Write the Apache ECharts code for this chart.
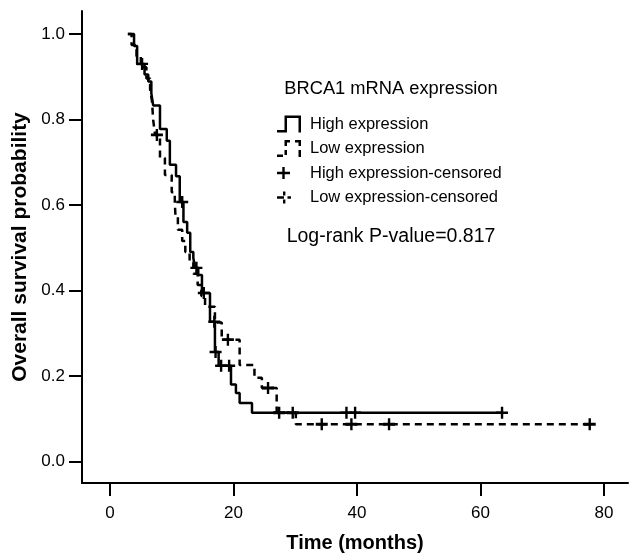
<!DOCTYPE html>
<html><head><meta charset="utf-8">
<script src="https://cdn.jsdelivr.net/npm/echarts@6/dist/echarts.min.js"></script>
<style>html,body{margin:0;padding:0;background:#fff}#c{width:630px;height:553px}</style>
</head><body><div id="c"></div>
<script>
// ---- data ----
const xTicks = [0, 20, 40, 60, 80];
const yTicks = [0, 0.2, 0.4, 0.6, 0.8, 1.0];

const highTime = [2.9, 3.9, 4.4, 5.6, 6.2, 6.7, 7.0, 8.1, 9.2, 9.7, 10.7, 11.3, 11.9, 12.5, 13.0, 13.5, 13.8, 14.3, 14.9, 16.2, 17.0, 17.6, 19.6, 20.4, 21.0, 23.0, 63.5];
const highSurv = [1.000, 0.972, 0.930, 0.905, 0.889, 0.861, 0.833, 0.778, 0.750, 0.694, 0.667, 0.607, 0.560, 0.535, 0.490, 0.476, 0.453, 0.436, 0.394, 0.327, 0.256, 0.224, 0.180, 0.160, 0.137, 0.114, 0.114];

const lowTime = [2.9, 3.5, 4.3, 5.0, 5.9, 6.5, 6.8, 7.0, 7.3, 8.1, 8.9, 10.0, 10.5, 10.6, 11.0, 11.7, 12.2, 12.9, 13.5, 14.2, 14.8, 15.4, 17.0, 18.1, 21.0, 23.4, 24.6, 27.0, 30.1, 77.7];
const lowSurv = [1.000, 0.974, 0.948, 0.922, 0.896, 0.870, 0.844, 0.799, 0.764, 0.710, 0.670, 0.630, 0.607, 0.577, 0.542, 0.516, 0.490, 0.465, 0.439, 0.413, 0.387, 0.362, 0.325, 0.285, 0.226, 0.196, 0.172, 0.114, 0.087, 0.087];

const highCensTime = [5.2, 11.7, 14.0, 15.2, 16.9, 17.1, 18.0, 19.3, 38.3, 39.7, 63.5];
const highCensSurv = [0.930, 0.607, 0.453, 0.394, 0.327, 0.256, 0.224, 0.224, 0.114, 0.114, 0.114];

const lowCensTime = [7.6, 19.1, 25.6, 27.4, 29.6, 34.3, 39.1, 45.2, 77.7];
const lowCensSurv = [0.764, 0.285, 0.172, 0.114, 0.114, 0.087, 0.087, 0.087, 0.087];

const seriesNames = ['High expression', 'Low expression', 'High expression-censored', 'Low expression-censored'];
const legendTitle = 'BRCA1 mRNA expression';
const pValueText = 'Log-rank P-value=0.817';

// ---- chart ----
const FONT = '"Liberation Sans", Arial, sans-serif';
const zip = (a, b) => a.map((v, i) => [v, b[i]]);
const plusPath = 'path://M0,4.8H12V7.2H0Z M4.8,0H7.2V12H4.8Z';
const plusLowPath = 'path://M0,4.8H12V7.2H0Z M4.8,1H7.2V11H4.8Z';

const iconHigh = 'path://M0,0M24,17M0,14.5H10V17H0Z M7.5,0H10V17H7.5Z M7.5,0H24V2.5H7.5Z M21.5,0H24V17H21.5Z';
const iconLow = 'path://M0,0M24,17M0,14.5H6V17H0Z M7.5,0H13V2.5H7.5Z M7.5,0H10V6H7.5Z M7.5,10H10V15H7.5Z M18,0H24V2.5H18Z M21.5,0H24V6H21.5Z M21.5,10H24V17H21.5Z';
const iconHighC = 'path://M0,0M24,17M0,7.3H13V9.7H0Z M5.3,2.5H7.7V14.5H5.3Z';
const iconLowC = 'path://M0,0M24,17M0,7.3H7V9.7H0Z M6,2.5H8.4V6.5H6Z M6,10.5H8.4V14.5H6Z M10.5,7.3H14V9.7H10.5Z';

const chart = echarts.init(document.getElementById('c'), null, {renderer: 'canvas'});
chart.setOption({
  animation: false,
  backgroundColor: '#fff',
  textStyle: {fontFamily: FONT},
  grid: {left: 82, right: 2, top: 11, bottom: 70, containLabel: false, outerBoundsMode: 'none'},
  xAxis: {
    type: 'value', min: -4.53, max: 83.9,
    name: 'Time (months)', nameLocation: 'middle', nameGap: 50,
    nameTextStyle: {fontFamily: FONT, fontWeight: 'bold', fontSize: 20, color: '#000'},
    axisLine: {show: true, onZero: false, lineStyle: {color: '#000', width: 2}},
    axisTick: {show: true, customValues: xTicks, length: 13, lineStyle: {color: '#000', width: 2}},
    axisLabel: {customValues: xTicks, margin: 22, fontFamily: FONT, fontSize: 17, color: '#000'},
    splitLine: {show: false}
  },
  yAxis: {
    type: 'value', min: -0.0503, max: 1.0538,
    name: 'Overall survival probability', nameLocation: 'middle', nameGap: 45,
    nameTextStyle: {fontFamily: FONT, fontWeight: 'bold', fontSize: 21, color: '#000'},
    axisLine: {show: true, onZero: false, lineStyle: {color: '#000', width: 2}},
    axisTick: {show: true, customValues: yTicks, length: 13, lineStyle: {color: '#000', width: 2}},
    axisLabel: {customValues: yTicks, margin: 17, fontFamily: FONT, fontSize: 17, color: '#000',
      formatter: v => v.toFixed(1)},
    splitLine: {show: false}
  },
  legend: {
    orient: 'vertical', left: 277, top: 115.5, padding: 0,
    itemWidth: 24, itemHeight: 17, itemGap: 7.5, selectedMode: false,
    itemStyle: {borderWidth: 0, opacity: 1},
    textStyle: {fontFamily: FONT, fontSize: 16.5, color: '#000', padding: [0, 0, 0, 4]},
    data: [
      {name: seriesNames[0], icon: iconHigh},
      {name: seriesNames[1], icon: iconLow},
      {name: seriesNames[2], icon: iconHighC},
      {name: seriesNames[3], icon: iconLowC}
    ]
  },
  graphic: [
    {type: 'text', x: 391, y: 89, silent: true,
      style: {text: legendTitle, fontFamily: FONT, fontSize: 18.3, fill: '#000', align: 'center', verticalAlign: 'middle'}},
    {type: 'text', x: 391, y: 237, silent: true,
      style: {text: pValueText, fontFamily: FONT, fontSize: 19.5, fill: '#000', align: 'center', verticalAlign: 'middle'}}
  ],
  series: [
    {name: seriesNames[0], type: 'line', step: 'end', symbol: 'none', silent: true,
      data: zip(highTime, highSurv), itemStyle: {color: '#000', opacity: 1},
      lineStyle: {color: '#000', width: 2.5}, z: 3},
    {name: seriesNames[1], type: 'line', step: 'end', symbol: 'none', silent: true,
      data: zip(lowTime, lowSurv), itemStyle: {color: '#000', opacity: 1},
      lineStyle: {color: '#000', width: 2.5, type: [7, 5]}, z: 2},
    {name: seriesNames[2], type: 'scatter', symbol: plusPath, symbolSize: 12, silent: true,
      data: zip(highCensTime, highCensSurv), itemStyle: {color: '#000', opacity: 1}, z: 4},
    {name: seriesNames[3], type: 'scatter', symbol: plusLowPath, symbolSize: 12, silent: true,
      data: zip(lowCensTime, lowCensSurv), itemStyle: {color: '#000', opacity: 1}, z: 4}
  ]
});
</script></body></html>
